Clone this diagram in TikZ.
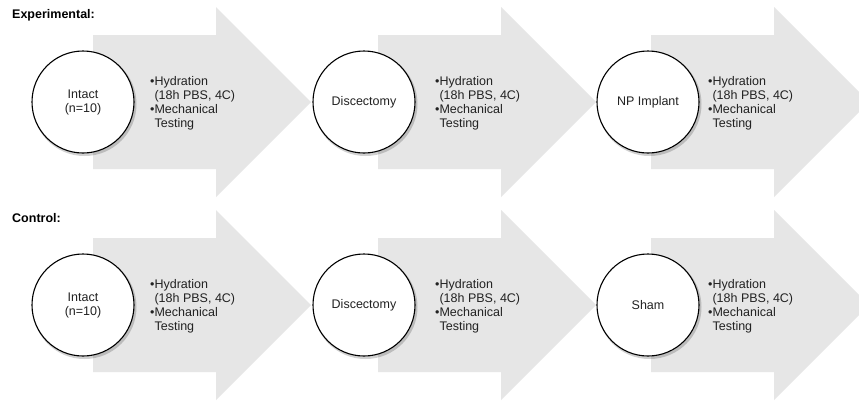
\documentclass[tikz,border=0pt]{standalone}
\usepackage{fontspec}
\setmainfont{Liberation Sans}
\definecolor{arrowgray}{HTML}{E6E6E6}
\definecolor{txt}{HTML}{222222}
\begin{document}
\begin{tikzpicture}[x=1pt,y=-1pt,
  bigarrow/.style={fill=arrowgray},
  stage/.style={circle,draw=black,line width=1.1pt,fill=white,minimum size=102pt,inner sep=0pt,align=center,font=\fontsize{12.5}{14}\selectfont,text=txt},
  steps/.style={anchor=west,inner sep=0pt,align=left,font=\fontsize{12.5}{14}\selectfont,text=txt},
  grouplabel/.style={anchor=west,inner sep=0pt,font=\fontsize{12.5}{14}\selectfont\bfseries,text=black}]
\useasboundingbox (0,0) rectangle (859,405);
\fill[white] (0,0) rectangle (859,405);
\begin{scope}
\clip (0,0) rectangle (859,405);
\foreach \dy in {0,203}{
  \foreach \L in {93,378,651}{
    \fill[bigarrow] (\L,35+\dy) -- (\L+123,35+\dy) -- (\L+123,7+\dy) -- (\L+218,102+\dy)
      -- (\L+123,197+\dy) -- (\L+123,169+\dy) -- (\L,169+\dy) -- cycle;
    \node[steps] at (\L+57,103+\dy) {•Hydration\\\phantom{•}(18h PBS, 4C)\\•Mechanical\\\phantom{•}Testing};
  }
  \foreach \cx in {83,364,648}{
    \fill[black,opacity=0.18] (\cx+1.5,102+\dy+2) circle (52);
  }
}
\end{scope}
\node[grouplabel] (lexp) at (12,15) {Experimental:};
\node[grouplabel] (lctl) at (12,218) {Control:};
\node[stage] (e1) at (83,102) {Intact\\(n=10)};
\node[stage] (e2) at (364,102) {Discectomy};
\node[stage] (e3) at (648,102) {NP Implant};
\node[stage] (c1) at (83,305) {Intact\\(n=10)};
\node[stage] (c2) at (364,305) {Discectomy};
\node[stage] (c3) at (648,305) {Sham};
\end{tikzpicture}
\end{document}
